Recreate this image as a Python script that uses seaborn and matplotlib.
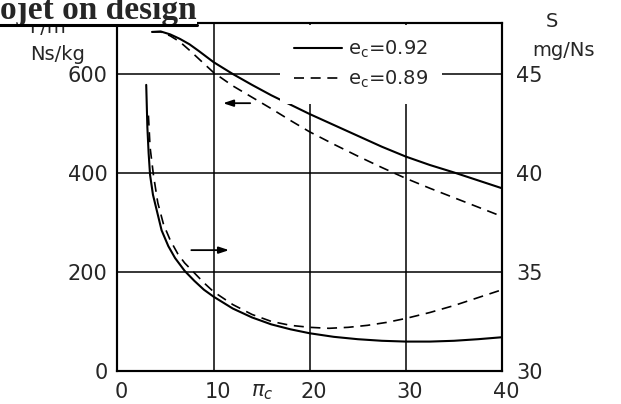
import matplotlib
matplotlib.use('Agg')
import matplotlib.pyplot as plt
import matplotlib.transforms as mtransforms
from matplotlib.lines import Line2D
import seaborn as sns
import pandas as pd

# specific thrust F/m (Ns/kg) against compressor pressure ratio
pi_fm_92 = [3.6, 4.5, 5.5, 6.5, 7.5, 8.5, 10, 12, 14, 16, 18, 20, 22.5, 25, 27.5, 30, 32.5, 35, 37.5, 40]
fm_92 = [685, 686, 680, 671, 660, 646, 624, 600, 578, 557, 538, 519, 497, 475, 453, 433, 416, 401, 385, 369]
pi_fm_89 = [3.6, 4.5, 5.5, 6.5, 7.5, 8.5, 10, 12, 14, 16, 18, 20, 22.5, 25, 27.5, 30, 32.5, 35, 37.5, 40]
fm_89 = [685, 685, 677, 665, 648, 630, 603, 576, 553, 530, 506, 483, 458, 434, 411, 389, 369, 350, 331, 312]

# specific fuel consumption S (mg/Ns)
pi_s_92 = [3.0, 3.12, 3.25, 3.4, 3.7, 4.1, 4.6, 5.3, 6.0, 7.0, 8.0, 9.0, 10, 12, 14, 16, 18, 20,
           22.5, 25, 27.5, 30, 32.5, 35, 37.5, 40]
s_92 = [44.45, 42.3, 41.0, 39.9, 38.9, 38.1, 37.1, 36.3, 35.7, 35.05, 34.55, 34.1, 33.75, 33.15, 32.7,
        32.35, 32.1, 31.9, 31.72, 31.6, 31.52, 31.48, 31.48, 31.52, 31.6, 31.7]
pi_s_89 = [3.23, 3.4, 3.75, 4.2, 4.8, 5.5, 6.3, 7.0, 8.0, 9.0, 10, 12, 14, 16, 18, 20, 22, 24, 26, 28,
           30, 32.5, 35, 37.5, 40]
s_89 = [42.9, 41.3, 39.9, 38.5, 37.4, 36.6, 35.9, 35.45, 34.95, 34.45, 34.0, 33.35, 32.85, 32.5, 32.3,
        32.2, 32.15, 32.2, 32.3, 32.45, 32.65, 32.95, 33.3, 33.7, 34.1]

x_ticks = [0, 10, 20, 30, 40]
fm_ticks = [0, 200, 400, 600]
s_ticks = [30, 35, 40, 45]

sns.set_style('white')
plt.rcParams['font.family'] = ['DejaVu Sans']
plt.rcParams['mathtext.fontset'] = 'dejavusans'

fig = plt.figure(figsize=(6.21, 4.04), dpi=100)
ax = fig.add_axes([0.189, 0.082, 0.6195, 0.861])
ax2 = ax.twinx()

df_fm92 = pd.DataFrame({'pi': pi_fm_92, 'v': fm_92})
df_fm89 = pd.DataFrame({'pi': pi_fm_89, 'v': fm_89})
df_s92 = pd.DataFrame({'pi': pi_s_92, 'v': s_92})
df_s89 = pd.DataFrame({'pi': pi_s_89, 'v': s_89})

sns.lineplot(data=df_fm92, x='pi', y='v', ax=ax, color='black', lw=1.5, label='$\\mathregular{e_c}$=0.92')
sns.lineplot(data=df_fm89, x='pi', y='v', ax=ax, color='black', lw=1.2,
             linestyle=(0, (6, 4)), label='$\\mathregular{e_c}$=0.89')
sns.lineplot(data=df_s92, x='pi', y='v', ax=ax2, color='black', lw=1.5, legend=False)
sns.lineplot(data=df_s89, x='pi', y='v', ax=ax2, color='black', lw=1.2, linestyle=(0, (6, 4)), legend=False)

ax.set_xlim(0, 40)
ax.set_ylim(0, 703)
ax2.set_ylim(30, 30 + 703 / 40)
ax.set_xticks(x_ticks)
ax.set_yticks(fm_ticks)
ax2.set_yticks(s_ticks)
ax.set_xlabel('')
ax.set_ylabel('')
ax2.set_ylabel('')

ax.grid(True, color='black', lw=1.1)
ax.set_axisbelow(True)
ax2.grid(False)
for a in (ax, ax2):
    for sp in a.spines.values():
        sp.set_color('black')
        sp.set_linewidth(1.5)

ax.tick_params(axis='x', length=0, pad=8, labelsize=15)
ax.tick_params(axis='y', length=0, pad=7, labelsize=15)
ax2.tick_params(axis='y', length=0, pad=10, labelsize=15)
shift = mtransforms.ScaledTranslation(0.04, 0, fig.dpi_scale_trans)
for lab in ax.get_xticklabels():
    lab.set_transform(lab.get_transform() + shift)

ax.text(15.1, -0.06, '$\\pi_c$', transform=ax.get_xaxis_transform(), ha='center', va='center', fontsize=15)

# arrows pointing to the axis each family belongs to
ax.annotate('', xy=(10.7, 541), xytext=(14.1, 541),
            arrowprops=dict(arrowstyle='-|>,head_length=0.6,head_width=0.2', color='black', lw=1.3))
ax.annotate('', xy=(11.9, 244), xytext=(7.4, 244),
            arrowprops=dict(arrowstyle='-|>,head_length=0.6,head_width=0.2', color='black', lw=1.3))

leg = ax.legend(loc='upper left', bbox_to_anchor=(0.423, 0.994), fontsize=14, frameon=True,
                handlelength=2.5, handletextpad=0.3, labelspacing=0.45, borderpad=0.7,
                borderaxespad=0, fancybox=False, framealpha=1)
leg.get_frame().set_edgecolor('none')
leg.get_frame().set_facecolor('white')
leg.set_zorder(5)

# axis captions
fig.text(0.0757, 0.931, 'F/m', ha='center', va='center', fontsize=14)
fig.text(0.092, 0.864, 'Ns/kg', ha='center', va='center', fontsize=14)
fig.text(0.889, 0.948, 'S', ha='center', va='center', fontsize=14)
fig.text(0.907, 0.874, 'mg/Ns', ha='center', va='center', fontsize=14)

title = fig.text(0.317, 0.953, 'Turbojet on design', ha='right', va='baseline', fontsize=24,
                 fontweight='bold', family='Liberation Serif',
                 bbox=dict(facecolor='white', edgecolor='none', pad=0), zorder=10)
fig.canvas.draw()
bb = title.get_window_extent().transformed(fig.transFigure.inverted())
fig.add_artist(Line2D([bb.x0, bb.x1], [0.939, 0.939], transform=fig.transFigure,
                      color='black', lw=2.2, zorder=11))

fig.savefig('out.png', dpi=100)
